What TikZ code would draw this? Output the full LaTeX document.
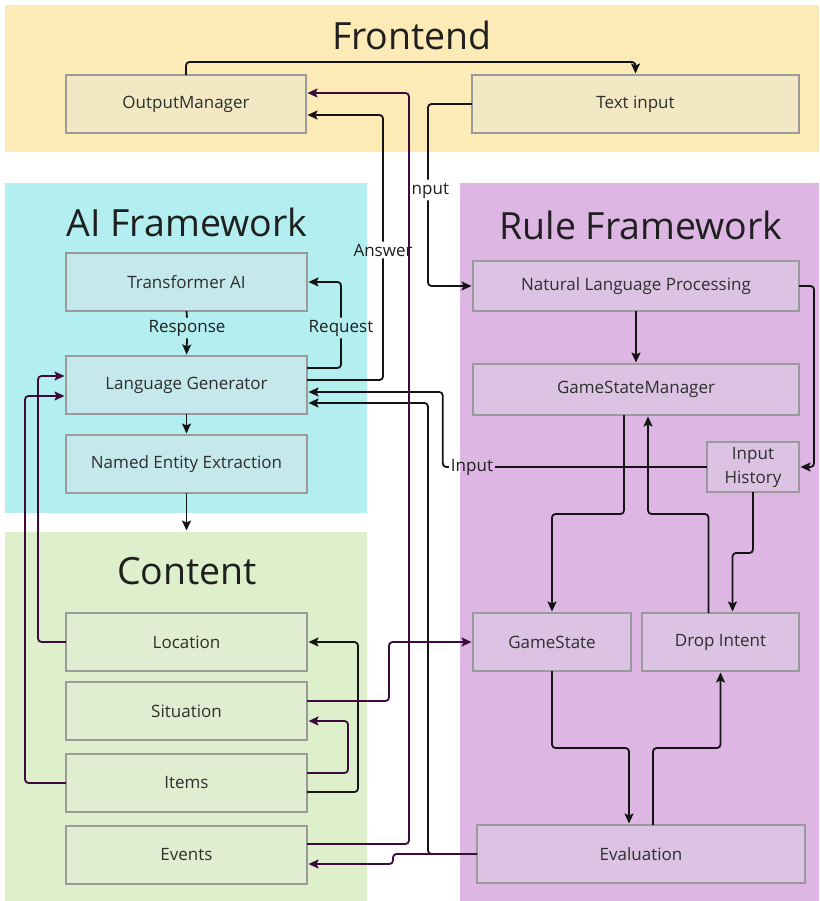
\documentclass[tikz,border=0pt]{standalone}
\usepackage{fontspec}
\setmainfont{Open Sans}
\usetikzlibrary{arrows.meta,calc}
\definecolor{frontP}{HTML}{FCEBB6}
\definecolor{frontB}{HTML}{F3E8C4}
\definecolor{aiP}{HTML}{B3EEF0}
\definecolor{aiB}{HTML}{C4E8EC}
\definecolor{conP}{HTML}{DDF0CB}
\definecolor{conB}{HTML}{E1EDD0}
\definecolor{ruleP}{HTML}{DDB6E4}
\definecolor{ruleB}{HTML}{DDC3E3}
\definecolor{purp}{HTML}{3D0A3D}
\definecolor{boxline}{HTML}{9A9A9A}
\begin{document}
\begin{tikzpicture}[x=1pt,y=-1pt,
  panel/.style={draw=none, inner sep=0pt, outer sep=0pt, anchor=north west},
  box/.style={draw=boxline, line width=1.2pt, inner sep=0pt, outer sep=0pt, minimum height=58pt, font=\fontsize{17}{24}\selectfont, text=black!82, align=center},
  ttl/.style={font=\fontsize{37.5}{42}\selectfont, text=black!88},
  lbl/.style={font=\fontsize{17}{19}\selectfont, inner sep=2pt, text=black!88},
  conn/.style={line width=1.8pt, rounded corners=3.5pt, draw=black!92},
  pconn/.style={conn, draw=purp},
  arr/.style={-{Stealth[length=10pt,width=9pt,inset=2pt]}, shorten >=1.5pt}
]
\useasboundingbox (0,0) rectangle (819,901);
% panels
\node[panel, fill=frontP, minimum width=814pt, minimum height=147pt] (frontp) at (5,5) {};
\node[panel, fill=aiP, minimum width=362pt, minimum height=330pt] (aip) at (5,183) {};
\node[panel, fill=conP, minimum width=362pt, minimum height=369pt] (conp) at (5,532) {};
\node[panel, fill=ruleP, minimum width=359pt, minimum height=718pt] (rulep) at (460,183) {};
% titles
\node[ttl] (ttlfront) at (412,35) {Frontend};
\node[ttl] (ttlai) at (187,222) {AI Framework};
\node[ttl] (ttlrule) at (641,225) {Rule Framework};
\node[ttl] (ttlcon) at (187,571) {Content};
% boxes
\node[box, fill=frontB, minimum width=240pt] (om) at (186,104) {OutputManager};
\node[box, fill=frontB, minimum width=327pt] (ti) at (635.5,104) {Text input};
\node[box, fill=aiB, minimum width=241pt] (tai) at (186.5,282) {Transformer AI};
\node[box, fill=aiB, minimum width=241pt] (lg) at (186.5,385) {Language Generator};
\node[box, fill=aiB, minimum width=241pt] (nee) at (186.5,464) {Named Entity Extraction};
\node[box, fill=conB, minimum width=241pt] (loc) at (186.5,642) {Location};
\node[box, fill=conB, minimum width=241pt] (sit) at (186.5,711) {Situation};
\node[box, fill=conB, minimum width=241pt] (items) at (186.5,783) {Items};
\node[box, fill=conB, minimum width=241pt] (events) at (186.5,855) {Events};
\node[box, fill=ruleB, minimum width=326pt, minimum height=50pt] (nlp) at (636,286) {Natural Language Processing};
\node[box, fill=ruleB, minimum width=326pt, minimum height=51pt] (gsm) at (636,389.5) {GameStateManager};
\node[box, fill=ruleB, minimum width=92pt, minimum height=50pt] (ih) at (753,467) {Input\\History};
\node[box, fill=ruleB, minimum width=158pt] (gs) at (552,642) {GameState};
\node[box, fill=ruleB, minimum width=157pt] (di) at (720.5,642) {Drop Intent};
\node[box, fill=ruleB, minimum width=328pt] (ev) at (641,854) {Evaluation};
% labels
\node[lbl] (lin1) at (428,190) {Input};
\node[lbl] (lans) at (383,250) {Answer};
\node[lbl] (lreq) at (341,328) {Request};
\node[lbl] (lresp) at (187,328) {Response};
\node[lbl] (lin2) at (472,467) {Input};
% black connectors
\draw[conn, arr] (om.north) -- ++(0,-13) -| (ti.north);
\draw[conn] (ti.west) -| (lin1.north);
\draw[conn, arr] (lin1.south) |- (nlp.west);
\draw[conn] ([yshift=5pt]lg.east) -| (lans.south);
\draw[conn, arr] (lans.north) |- ([yshift=-11pt]om.east);
\draw[conn] ([yshift=17pt]lg.east) -| (lreq.south);
\draw[conn, arr] (lreq.north) |- (tai.east);
\draw[conn] (tai.south) -- (lresp.north);
\draw[conn, arr] (lresp.south) -- (lg.north);
\draw[conn, arr] (lg.south) -- (nee.north);
\draw[conn, arr] (nee.south) -- (nee.south |- conp.north);
\draw[conn] (ih.west) -- (lin2.east);
\draw[conn, arr] (lin2.west) -- ++(-6,0) |- ([yshift=-7pt]lg.east);
\draw[conn, arr] (ev.west) -- ++(-49,0) |- ([yshift=-18pt]lg.east);
\draw[conn, arr] ([yshift=-9pt]items.east) -- ++(51,0) |- (loc.east);
\draw[conn, arr] (nlp.south) -- (gsm.north);
\draw[conn, arr] (nlp.east) -- ++(15,0) |- (ih.east);
\draw[conn, arr] ([xshift=-12pt]gsm.south) -- ++(0,99) -| (gs.north);
\draw[conn, arr] ([xshift=-12pt]di.north) -- ++(0,-99) -| ([xshift=12pt]gsm.south);
\draw[conn, arr] (ih.south) -- ++(0,61) -| ([xshift=12pt]di.north);
\draw[conn, arr] (gs.south) -- ++(0,77) -| ([xshift=-12pt]ev.north);
\draw[conn, arr] ([xshift=12pt]ev.north) -- ++(0,-77) -| (di.south);
% purple connectors
\draw[pconn, arr] ([yshift=11pt]events.east) -- ++(102,0) |- ([yshift=11pt]om.east);
\draw[pconn, arr] (ev.west) -- ++(-84,0) |- ([yshift=-9pt]events.east);
\draw[pconn, arr] (loc.west) -- ++(-28,0) |- ([yshift=9pt]lg.west);
\draw[pconn, arr] (items.west) -- ++(-41,0) |- ([yshift=-11pt]lg.west);
\draw[pconn, arr] ([yshift=10pt]items.east) -- ++(41,0) |- ([yshift=-10pt]sit.east);
\draw[pconn, arr] ([yshift=10pt]sit.east) -- ++(82,0) |- (gs.west);
\end{tikzpicture}
\end{document}
